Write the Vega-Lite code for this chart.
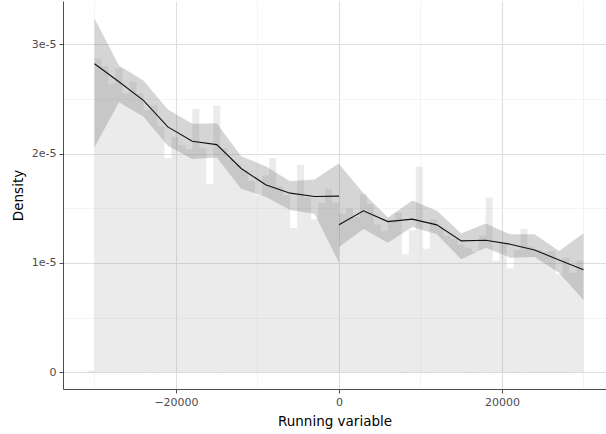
{
  "$schema": "https://vega.github.io/schema/vega-lite/v6.json",
  "width": 543,
  "height": 388,
  "autosize": {"type": "none"},
  "padding": {"left": 63, "top": 1, "right": 0, "bottom": 45},
  "background": "white",
  "config": {
    "view": {"stroke": null},
    "font": "DejaVu Sans",
    "axis": {
      "domainColor": "#4d4d4d",
      "tickColor": "#4d4d4d",
      "tickSize": 4,
      "labelColor": "#4d4d4d",
      "labelFontSize": 11,
      "labelPadding": 3,
      "titleFontSize": 13.5,
      "titleFontWeight": "normal",
      "titleColor": "#000000"
    }
  },
  "datasets": {
    "hist": [
      {"lo": -30857, "hi": -30000, "density": 0.015e-5},
      {"lo": -30000, "hi": -29143, "density": 2.87e-5},
      {"lo": -29143, "hi": -28286, "density": 2.80e-5},
      {"lo": -28286, "hi": -27429, "density": 2.64e-5},
      {"lo": -27429, "hi": -26571, "density": 2.78e-5},
      {"lo": -26571, "hi": -25714, "density": 2.55e-5},
      {"lo": -25714, "hi": -24857, "density": 2.66e-5},
      {"lo": -24857, "hi": -24000, "density": 2.55e-5},
      {"lo": -24000, "hi": -23143, "density": 2.40e-5},
      {"lo": -23143, "hi": -22286, "density": 2.44e-5},
      {"lo": -22286, "hi": -21429, "density": 2.25e-5},
      {"lo": -21429, "hi": -20571, "density": 1.96e-5},
      {"lo": -20571, "hi": -19714, "density": 2.15e-5},
      {"lo": -19714, "hi": -18857, "density": 2.08e-5},
      {"lo": -18857, "hi": -18000, "density": 2.04e-5},
      {"lo": -18000, "hi": -17143, "density": 2.41e-5},
      {"lo": -17143, "hi": -16286, "density": 2.05e-5},
      {"lo": -16286, "hi": -15429, "density": 1.72e-5},
      {"lo": -15429, "hi": -14571, "density": 2.44e-5},
      {"lo": -14571, "hi": -13714, "density": 2.05e-5},
      {"lo": -13714, "hi": -12857, "density": 1.95e-5},
      {"lo": -12857, "hi": -12000, "density": 1.90e-5},
      {"lo": -12000, "hi": -11143, "density": 1.85e-5},
      {"lo": -11143, "hi": -10286, "density": 1.75e-5},
      {"lo": -10286, "hi": -9429, "density": 1.62e-5},
      {"lo": -9429, "hi": -8571, "density": 1.80e-5},
      {"lo": -8571, "hi": -7714, "density": 1.96e-5},
      {"lo": -7714, "hi": -6857, "density": 1.70e-5},
      {"lo": -6857, "hi": -6000, "density": 1.62e-5},
      {"lo": -6000, "hi": -5143, "density": 1.32e-5},
      {"lo": -5143, "hi": -4286, "density": 1.90e-5},
      {"lo": -4286, "hi": -3429, "density": 1.60e-5},
      {"lo": -3429, "hi": -2571, "density": 1.40e-5},
      {"lo": -2571, "hi": -1714, "density": 1.55e-5},
      {"lo": -1714, "hi": -857, "density": 1.68e-5},
      {"lo": -857, "hi": 0, "density": 1.55e-5},
      {"lo": 0, "hi": 857, "density": 1.45e-5},
      {"lo": 857, "hi": 1714, "density": 1.50e-5},
      {"lo": 1714, "hi": 2571, "density": 1.42e-5},
      {"lo": 2571, "hi": 3429, "density": 1.63e-5},
      {"lo": 3429, "hi": 4286, "density": 1.54e-5},
      {"lo": 4286, "hi": 5143, "density": 1.35e-5},
      {"lo": 5143, "hi": 6000, "density": 1.29e-5},
      {"lo": 6000, "hi": 6857, "density": 1.40e-5},
      {"lo": 6857, "hi": 7714, "density": 1.46e-5},
      {"lo": 7714, "hi": 8571, "density": 1.08e-5},
      {"lo": 8571, "hi": 9429, "density": 1.30e-5},
      {"lo": 9429, "hi": 10286, "density": 1.88e-5},
      {"lo": 10286, "hi": 11143, "density": 1.13e-5},
      {"lo": 11143, "hi": 12000, "density": 1.40e-5},
      {"lo": 12000, "hi": 12857, "density": 1.32e-5},
      {"lo": 12857, "hi": 13714, "density": 1.25e-5},
      {"lo": 13714, "hi": 14571, "density": 1.22e-5},
      {"lo": 14571, "hi": 15429, "density": 1.17e-5},
      {"lo": 15429, "hi": 16286, "density": 1.14e-5},
      {"lo": 16286, "hi": 17143, "density": 1.10e-5},
      {"lo": 17143, "hi": 18000, "density": 1.25e-5},
      {"lo": 18000, "hi": 18857, "density": 1.60e-5},
      {"lo": 18857, "hi": 19714, "density": 1.02e-5},
      {"lo": 19714, "hi": 20571, "density": 1.18e-5},
      {"lo": 20571, "hi": 21429, "density": 0.95e-5},
      {"lo": 21429, "hi": 22286, "density": 1.12e-5},
      {"lo": 22286, "hi": 23143, "density": 1.31e-5},
      {"lo": 23143, "hi": 24000, "density": 1.15e-5},
      {"lo": 24000, "hi": 24857, "density": 1.12e-5},
      {"lo": 24857, "hi": 25714, "density": 1.10e-5},
      {"lo": 25714, "hi": 26571, "density": 1.11e-5},
      {"lo": 26571, "hi": 27429, "density": 0.90e-5},
      {"lo": 27429, "hi": 28286, "density": 1.05e-5},
      {"lo": 28286, "hi": 29143, "density": 0.91e-5},
      {"lo": 29143, "hi": 30000, "density": 1.02e-5}
    ],
    "fit": [
      {"side": "left", "x": -30000, "lo": 2.058e-5, "hi": 3.236e-5, "fit": 2.823e-5},
      {"side": "left", "x": -27000, "lo": 2.471e-5, "hi": 2.807e-5, "fit": 2.658e-5},
      {"side": "left", "x": -24000, "lo": 2.340e-5, "hi": 2.670e-5, "fit": 2.488e-5},
      {"side": "left", "x": -21000, "lo": 2.073e-5, "hi": 2.404e-5, "fit": 2.245e-5},
      {"side": "left", "x": -18000, "lo": 1.951e-5, "hi": 2.275e-5, "fit": 2.113e-5},
      {"side": "left", "x": -15000, "lo": 1.966e-5, "hi": 2.278e-5, "fit": 2.083e-5},
      {"side": "left", "x": -12000, "lo": 1.679e-5, "hi": 1.977e-5, "fit": 1.865e-5},
      {"side": "left", "x": -9000, "lo": 1.606e-5, "hi": 1.885e-5, "fit": 1.716e-5},
      {"side": "left", "x": -6000, "lo": 1.486e-5, "hi": 1.748e-5, "fit": 1.639e-5},
      {"side": "left", "x": -3000, "lo": 1.450e-5, "hi": 1.764e-5, "fit": 1.608e-5},
      {"side": "left", "x": 0, "lo": 1.003e-5, "hi": 1.913e-5, "fit": 1.612e-5},
      {"side": "right", "x": 0, "lo": 1.147e-5, "hi": 1.905e-5, "fit": 1.349e-5},
      {"side": "right", "x": 3000, "lo": 1.312e-5, "hi": 1.638e-5, "fit": 1.477e-5},
      {"side": "right", "x": 6000, "lo": 1.186e-5, "hi": 1.416e-5, "fit": 1.379e-5},
      {"side": "right", "x": 9000, "lo": 1.330e-5, "hi": 1.572e-5, "fit": 1.401e-5},
      {"side": "right", "x": 12000, "lo": 1.263e-5, "hi": 1.477e-5, "fit": 1.349e-5},
      {"side": "right", "x": 15000, "lo": 1.034e-5, "hi": 1.271e-5, "fit": 1.202e-5},
      {"side": "right", "x": 18000, "lo": 1.140e-5, "hi": 1.361e-5, "fit": 1.208e-5},
      {"side": "right", "x": 21000, "lo": 1.049e-5, "hi": 1.263e-5, "fit": 1.172e-5},
      {"side": "right", "x": 24000, "lo": 1.055e-5, "hi": 1.263e-5, "fit": 1.119e-5},
      {"side": "right", "x": 27000, "lo": 0.911e-5, "hi": 1.110e-5, "fit": 1.028e-5},
      {"side": "right", "x": 30000, "lo": 0.661e-5, "hi": 1.272e-5, "fit": 0.939e-5}
    ]
  },
  "layer": [
    {
      "data": {"name": "hist"},
      "mark": {"type": "rect", "fill": "#999999", "opacity": 0.2},
      "encoding": {
        "x": {
          "field": "lo", "type": "quantitative", "title": "Running variable",
          "scale": {"domain": [-33865, 32761], "nice": false, "zero": false},
          "axis": {
            "values": [-30000, -20000, -10000, 0, 10000, 20000, 30000],
            "format": "d",
            "labelExpr": "datum.value % 20000 == 0 ? datum.label : ''",
            "grid": true,
            "gridColor": {"condition": {"test": "datum.value % 20000 == 0", "value": "#dedede"}, "value": "#efefef"},
            "gridWidth": {"condition": {"test": "datum.value % 20000 == 0", "value": 1.1}, "value": 0.7},
            "tickOpacity": {"condition": {"test": "datum.value % 20000 == 0", "value": 1}, "value": 0},
            "titlePadding": 7
          }
        },
        "x2": {"field": "hi"},
        "y": {
          "field": "density", "type": "quantitative", "title": "Density",
          "scale": {"domain": [-1.528e-6, 3.397e-5], "nice": false, "zero": false},
          "axis": {
            "values": [0, 5e-6, 1e-5, 1.5e-5, 2e-5, 2.5e-5, 3e-5],
            "labelExpr": "round(datum.value * 2e5) % 2 == 0 ? (datum.value == 0 ? '0' : round(datum.value * 1e5) + 'e-5') : ''",
            "grid": true,
            "gridColor": {"condition": {"test": "round(datum.value * 2e5) % 2 == 0", "value": "#dedede"}, "value": "#efefef"},
            "gridWidth": {"condition": {"test": "round(datum.value * 2e5) % 2 == 0", "value": 1.1}, "value": 0.7},
            "tickOpacity": {"condition": {"test": "round(datum.value * 2e5) % 2 == 0", "value": 1}, "value": 0},
            "titlePadding": 6
          }
        },
        "y2": {"datum": 0}
      }
    },
    {
      "data": {"name": "fit"},
      "mark": {"type": "area", "fill": "#808080", "opacity": 0.33},
      "encoding": {
        "x": {"field": "x", "type": "quantitative", "title": "Running variable"},
        "y": {"field": "lo", "type": "quantitative", "title": "Density"},
        "y2": {"field": "hi"},
        "detail": {"field": "side"}
      }
    },
    {
      "data": {"name": "fit"},
      "mark": {"type": "line", "color": "#111111", "strokeWidth": 1.1},
      "encoding": {
        "x": {"field": "x", "type": "quantitative", "title": "Running variable"},
        "y": {"field": "fit", "type": "quantitative", "title": "Density"},
        "detail": {"field": "side"}
      }
    },
    {
      "mark": {"type": "rule", "color": "#4d4d4d", "strokeWidth": 1},
      "encoding": {"y": {"datum": 3.397e-5}}
    }
  ]
}
